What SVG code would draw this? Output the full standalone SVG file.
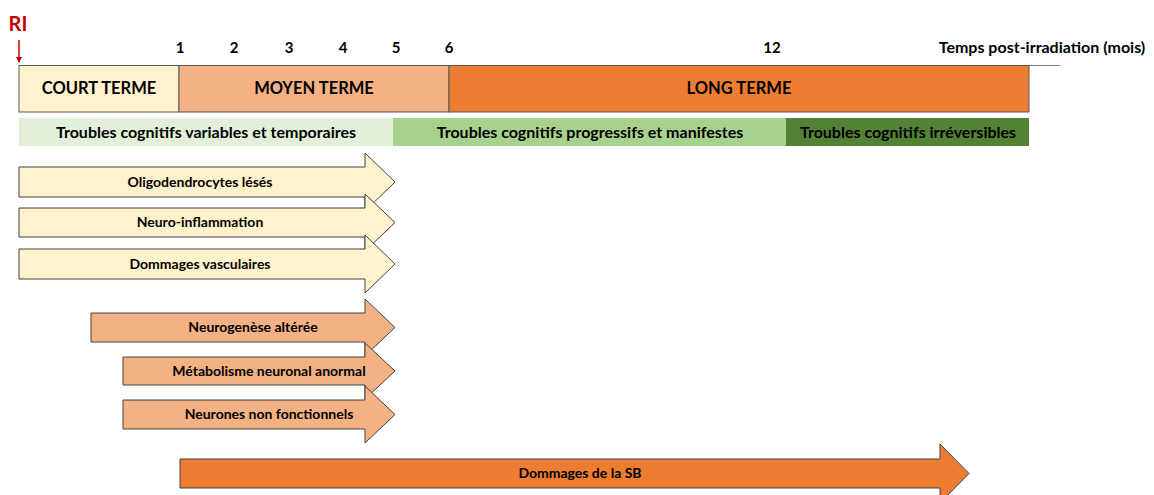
<svg xmlns="http://www.w3.org/2000/svg" width="1154" height="495" viewBox="0 0 1154 495">
<defs>
<style>
text{font-family:Lato,"Open Sans","Liberation Sans",sans-serif;font-weight:bold;fill:#000}
.num{font-size:15px;text-anchor:middle}
.term{font-size:16.5px;text-anchor:middle}
.band{font-size:16px;text-anchor:middle}
.lbl{font-size:14px;text-anchor:middle}
.box{stroke:#595959;stroke-width:1}
.arr{stroke:#404040;stroke-width:1}
.y{fill:#FFF2CC}.o{fill:#F4B183}.d{fill:#ED7D31}
</style>
<marker id="ah" markerWidth="6" markerHeight="6" refX="5" refY="3" orient="auto" markerUnits="userSpaceOnUse"><path d="M0,0 L6,3 L0,6 z" fill="#C00000"/></marker>
</defs>
<rect width="1154" height="495" fill="#fff"/>
<g id="ri">
<text x="18" y="31" style="font-size:20px;fill:#C00000;text-anchor:middle">RI</text>
<line x1="19" y1="40" x2="19" y2="62" stroke="#C00000" stroke-width="1.5" marker-end="url(#ah)"/>
</g>
<g id="axis">
<line x1="19" y1="65.5" x2="1060" y2="65.5" stroke="#7f7f7f" stroke-width="1"/>
<text class="num" x="180" y="53">1</text>
<text class="num" x="234" y="53">2</text>
<text class="num" x="289" y="53">3</text>
<text class="num" x="343" y="53">4</text>
<text class="num" x="396" y="53">5</text>
<text class="num" x="449" y="53">6</text>
<text class="num" x="772" y="53">12</text>
<text x="1042" y="53" style="font-size:16px;text-anchor:middle">Temps post-irradiation (mois)</text>
</g>
<g id="court"><rect class="box y" x="19" y="65.5" width="160" height="46.5"/><text class="term" x="99" y="94">COURT TERME</text></g>
<g id="moyen"><rect class="box o" x="179" y="65.5" width="270" height="46.5"/><text class="term" x="314" y="94">MOYEN TERME</text></g>
<g id="long"><rect class="box d" x="449" y="65.5" width="580" height="46.5"/><text class="term" x="739" y="94">LONG TERME</text></g>
<g id="band1"><rect x="19" y="118" width="374" height="28" fill="#E2F0D9"/><text class="band" x="206" y="138">Troubles cognitifs variables et temporaires</text></g>
<g id="band2"><rect x="393" y="118" width="393" height="28" fill="#A9D18E"/><text class="band" x="590" y="138">Troubles cognitifs progressifs et manifestes</text></g>
<g id="band3"><rect x="786" y="118" width="243" height="28" fill="#548235"/><text class="band" x="908" y="138">Troubles cognitifs irréversibles</text></g>
<g id="a1"><path class="arr y" d="M19,167 H365 V153 L395,182 L365,211 V197 H19 Z"/><text class="lbl" x="200" y="187">Oligodendrocytes lésés</text></g>
<g id="a2"><path class="arr y" d="M19,208 H365 V194 L395,222.5 L365,251 V237 H19 Z"/><text class="lbl" x="200" y="227">Neuro-inflammation</text></g>
<g id="a3"><path class="arr y" d="M19,249 H365 V235 L395,264 L365,293 V279 H19 Z"/><text class="lbl" x="200" y="269">Dommages vasculaires</text></g>
<g id="a4"><path class="arr o" d="M91,313 H365 V299 L395,327.5 L365,356 V342 H91 Z"/><text class="lbl" x="253" y="332">Neurogenèse altérée</text></g>
<g id="a5"><path class="arr o" d="M123,357 H365 V343 L395,371 L365,399 V385 H123 Z"/><text class="lbl" x="269" y="376">Métabolisme neuronal anormal</text></g>
<g id="a6"><path class="arr o" d="M123,400 H365 V386 L395,414.5 L365,443 V429 H123 Z"/><text class="lbl" x="269" y="419">Neurones non fonctionnels</text></g>
<g id="a7"><path class="arr d" d="M180,459 H940 V444 L969,473.5 L940,503 V488 H180 Z"/><text class="lbl" x="580" y="478">Dommages de la SB</text></g>
</svg>
